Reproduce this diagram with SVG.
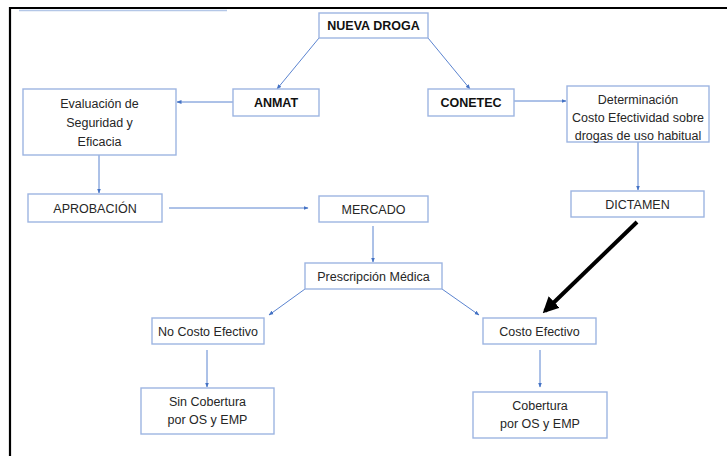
<svg xmlns="http://www.w3.org/2000/svg" width="727" height="456" viewBox="0 0 727 456">
<defs>
<style>
.box{fill:#fff;stroke:#9db5e2;stroke-width:1.4}
.t{font-family:"Liberation Sans",Arial,sans-serif;font-size:12.5px;fill:#262626;text-anchor:middle}
.b{font-weight:bold;fill:#111}
.c{stroke:#5b84d0;stroke-width:1;fill:none;marker-end:url(#ah)}
</style>
<marker id="ah" viewBox="0 0 10 10" refX="9" refY="5" markerWidth="5" markerHeight="5" orient="auto">
<path d="M0,1 L10,5 L0,9 z" fill="#4472c4"/>
</marker>
<marker id="bh" viewBox="0 0 10 10" refX="8" refY="5" markerWidth="4" markerHeight="4" orient="auto">
<path d="M0,0 L10,5 L0,10 z" fill="#000"/>
</marker>
</defs>
<rect width="727" height="456" fill="#fff"/>
<line x1="19" y1="10.5" x2="227" y2="10.5" stroke="#b4c7e7" stroke-width="1.5"/>
<path d="M10,456 V8 H727" fill="none" stroke="#000" stroke-width="2.2"/>

<g id="connectors">
<line class="c" x1="319" y1="38" x2="277" y2="89"/>
<line class="c" x1="428" y1="38" x2="470" y2="89"/>
<line class="c" x1="233" y1="102" x2="177" y2="102"/>
<line class="c" x1="514" y1="101" x2="566" y2="101"/>
<line class="c" x1="99" y1="155" x2="99" y2="193"/>
<line class="c" x1="169" y1="208" x2="308" y2="208"/>
<line class="c" x1="638" y1="142" x2="638" y2="190"/>
<line class="c" x1="373" y1="226" x2="373" y2="262"/>
<line class="c" x1="305" y1="289" x2="269" y2="315"/>
<line class="c" x1="442" y1="289" x2="479" y2="315"/>
<line class="c" x1="207" y1="350" x2="207" y2="387"/>
<line class="c" x1="540" y1="350" x2="540" y2="387"/>
<line x1="637" y1="222" x2="545" y2="311" stroke="#000" stroke-width="4" marker-end="url(#bh)"/>
</g>

<g id="nueva-droga"><rect class="box" x="319" y="13" width="109" height="25"/><text class="t b" x="373.5" y="30">NUEVA DROGA</text></g>
<g id="anmat"><rect class="box" x="233" y="89" width="86" height="27"/><text class="t b" x="276" y="107">ANMAT</text></g>
<g id="conetec"><rect class="box" x="428" y="89" width="86" height="27"/><text class="t b" x="471" y="107">CONETEC</text></g>
<g id="evaluacion"><rect class="box" x="23" y="89" width="153" height="66"/>
<text class="t" x="99.5" y="108">Evaluación de</text><text class="t" x="99.5" y="127">Seguridad y</text><text class="t" x="99.5" y="146">Eficacia</text></g>
<g id="determinacion"><rect class="box" x="567" y="86" width="142" height="56"/>
<text class="t" x="638" y="104">Determinación</text><text class="t" x="638" y="122">Costo Efectividad sobre</text><text class="t" x="638" y="140">drogas de uso habitual</text></g>
<g id="aprobacion"><rect class="box" x="28" y="194" width="134" height="28"/><text class="t" x="95" y="212.5">APROBACIÓN</text></g>
<g id="mercado"><rect class="box" x="319" y="196" width="109" height="26"/><text class="t" x="373.5" y="213.5">MERCADO</text></g>
<g id="dictamen"><rect class="box" x="571" y="191" width="133" height="26"/><text class="t" x="637.5" y="208.5">DICTAMEN</text></g>
<g id="prescripcion"><rect class="box" x="305" y="263" width="137" height="26"/><text class="t" x="373.5" y="280.5">Prescripción Médica</text></g>
<g id="no-costo-efectivo"><rect class="box" x="152" y="318" width="112" height="26"/><text class="t" x="208" y="335.5">No Costo Efectivo</text></g>
<g id="costo-efectivo"><rect class="box" x="483" y="318" width="113" height="26"/><text class="t" x="539.5" y="335.5">Costo Efectivo</text></g>
<g id="sin-cobertura"><rect class="box" x="141" y="388" width="133" height="46"/>
<text class="t" x="207.5" y="406">Sin Cobertura</text><text class="t" x="207.5" y="424">por OS y EMP</text></g>
<g id="cobertura"><rect class="box" x="473" y="392" width="134" height="46"/>
<text class="t" x="540" y="410">Cobertura</text><text class="t" x="540" y="428">por OS y EMP</text></g>
</svg>
